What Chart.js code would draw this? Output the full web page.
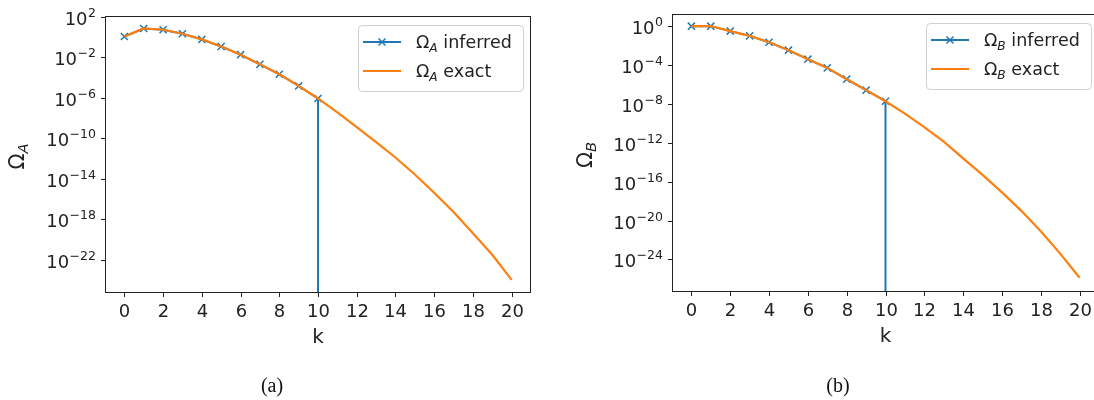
<!DOCTYPE html>
<html>
<head>
<meta charset="utf-8">
<script src="https://cdn.jsdelivr.net/npm/chart.js@4"></script>
<style>
  html, body { margin: 0; padding: 0; background: #fff; overflow: hidden; }
  #wrap { position: relative; width: 1094px; height: 400px; overflow: hidden; }
  #wrap canvas { position: absolute; top: 0; }
</style>
</head>
<body>
<div id="wrap">
  <canvas id="chartA" width="560" height="400" style="left:0px"></canvas>
  <canvas id="chartB" width="560" height="400" style="left:560px"></canvas>
</div>
<script>
// k = 0..20
const kValues = [0, 1, 2, 3, 4, 5, 6, 7, 8, 9, 10, 11, 12, 13, 14, 15, 16, 17, 18, 19, 20];

// inferred values are zero past the cut at k = 10
const inferredA = [1.07, 6.6, 4.9, 2.0, 0.55, 0.11, 0.017, 1.9e-3, 2.0e-4, 1.4e-5, 8.1e-7,
                   0, 0, 0, 0, 0, 0, 0, 0, 0, 0];
const exactA = [1.07, 6.6, 4.9, 2.0, 0.55, 0.11, 0.017, 1.9e-3, 2.0e-4, 1.4e-5, 8.1e-7,
                3.5e-8, 1.2e-9, 4.0e-11, 1.2e-12, 2.5e-14, 4.0e-16, 5.0e-18, 4.0e-20, 3.0e-22, 1.0e-24];

const inferredB = [1.0, 1.0, 0.31, 0.10, 0.022, 3.4e-3, 4.0e-4, 5.1e-5, 3.5e-6, 2.6e-7, 1.9e-8,
                   0, 0, 0, 0, 0, 0, 0, 0, 0, 0];
const exactB = [1.0, 1.0, 0.31, 0.10, 0.022, 3.4e-3, 4.0e-4, 5.1e-5, 3.5e-6, 2.6e-7, 1.9e-8,
                1.0e-9, 4.0e-11, 1.3e-12, 2.5e-14, 5.0e-16, 8.0e-18, 1.0e-19, 8.0e-22, 4.0e-24, 1.3e-26];

// tick labels: k on x, powers of ten (exponents) on y
const xTicks = [0, 2, 4, 6, 8, 10, 12, 14, 16, 18, 20];
const yExpA = [2, -2, -6, -10, -14, -18, -22];
const yExpB = [0, -4, -8, -12, -16, -20, -24];

const BLUE = '#1f77b4';
const ORANGE = '#ff7f0e';
const INK = '#222';
const SANS = '"DejaVu Sans", sans-serif';

function minus(n) {
  return n < 0 ? '\u2212' + (-n) : String(n);
}

// "10" with a raised exponent, right-aligned at x
function drawPower(ctx, exp, right, y) {
  const sup = minus(exp);
  ctx.font = '12.5px ' + SANS;
  const wSup = ctx.measureText(sup).width;
  ctx.font = '18px ' + SANS;
  const wBase = ctx.measureText('10').width;
  ctx.textAlign = 'left';
  ctx.textBaseline = 'alphabetic';
  ctx.fillText('10', right - wSup - wBase - 0.5, y + 7.5);
  ctx.font = '12.5px ' + SANS;
  ctx.fillText(sup, right - wSup, y - 1);
}

// Ω with italic subscript letter, starting at x on baseline y
function drawOmega(ctx, sub, x, y, size) {
  ctx.textAlign = 'left';
  ctx.textBaseline = 'alphabetic';
  ctx.font = size + 'px ' + SANS;
  ctx.fillText('\u03A9', x, y);
  const w = ctx.measureText('\u03A9').width;
  ctx.font = 'italic ' + (size * 0.7) + 'px ' + SANS;
  ctx.fillText(sub, x + w, y + size * 0.2);
  return w + ctx.measureText(sub).width;
}

function omegaWidth(ctx, sub, size) {
  ctx.font = size + 'px ' + SANS;
  const w = ctx.measureText('\u03A9').width;
  ctx.font = 'italic ' + (size * 0.7) + 'px ' + SANS;
  return w + ctx.measureText(sub).width;
}

const decor = {
  id: 'decor',
  afterDraw(chart, args, opts) {
    const { ctx, chartArea: a, scales: { x, y } } = chart;
    ctx.save();
    ctx.fillStyle = INK;
    ctx.strokeStyle = INK;
    ctx.lineWidth = 1;

    // frame
    ctx.strokeRect(Math.round(a.left) + 0.5, Math.round(a.top) + 0.5,
                   Math.round(a.right - a.left) - 1, Math.round(a.bottom - a.top) - 1);

    // x ticks
    xTicks.forEach(t => {
      const px = Math.round(x.getPixelForValue(t)) + 0.5;
      ctx.beginPath();
      ctx.moveTo(px, a.bottom);
      ctx.lineTo(px, a.bottom + 4);
      ctx.stroke();
      ctx.font = '18px ' + SANS;
      ctx.textAlign = 'center';
      ctx.textBaseline = 'alphabetic';
      ctx.fillText(String(t), px, a.bottom + 24);
    });

    // y ticks
    opts.yExp.forEach(e => {
      const py = Math.round(y.getPixelForValue(Math.pow(10, e))) + 0.5;
      ctx.beginPath();
      ctx.moveTo(a.left - 4, py);
      ctx.lineTo(a.left, py);
      ctx.stroke();
      drawPower(ctx, e, a.left - 9, py);
    });

    // x axis title
    ctx.font = '20px ' + SANS;
    ctx.textAlign = 'center';
    ctx.fillText('k', (a.left + a.right) / 2, a.bottom + 50);

    // y axis title, rotated
    ctx.save();
    ctx.translate(a.left - opts.yTitleGap, (a.top + a.bottom) / 2 + 2);
    ctx.rotate(-Math.PI / 2);
    const tw = omegaWidth(ctx, opts.sub, 21);
    drawOmega(ctx, opts.sub, -tw / 2, 0, 21);
    ctx.restore();

    // legend
    const lg = opts.legend;
    const bx = a.right - lg.width - lg.right;
    const by = a.top + lg.top;
    ctx.beginPath();
    ctx.roundRect(bx + 0.5, by + 0.5, lg.width, lg.height, 4);
    ctx.fillStyle = 'rgba(255,255,255,0.8)';
    ctx.fill();
    ctx.strokeStyle = '#d0d0d0';
    ctx.stroke();

    const rows = [
      { color: BLUE, marker: true, text: ' inferred' },
      { color: ORANGE, marker: false, text: ' exact' }
    ];
    rows.forEach((r, i) => {
      const cy = by + 17 + i * 29;
      const hx = bx + 5;
      ctx.strokeStyle = r.color;
      ctx.lineWidth = 2;
      ctx.beginPath();
      ctx.moveTo(hx, cy);
      ctx.lineTo(hx + 38, cy);
      ctx.stroke();
      if (r.marker) {
        const mx = hx + 19, s = 3.5;
        ctx.lineWidth = 1.5;
        ctx.beginPath();
        ctx.moveTo(mx - s, cy - s); ctx.lineTo(mx + s, cy + s);
        ctx.moveTo(mx - s, cy + s); ctx.lineTo(mx + s, cy - s);
        ctx.stroke();
      }
      ctx.fillStyle = INK;
      const tx = hx + 53;
      const w = drawOmega(ctx, opts.sub, tx, cy + 6, 17.5);
      ctx.font = '17.5px ' + SANS;
      ctx.fillText(r.text, tx + w, cy + 6);
    });

    // panel caption
    ctx.fillStyle = '#111';
    ctx.font = '20px "Liberation Serif", serif';
    ctx.textAlign = 'center';
    ctx.fillText(opts.caption, opts.captionX, 392);
    ctx.restore();
  }
};

// a zero inferred value falls off the log axis: the line drops straight
// down from the last positive point
function inferredPoints(inferred) {
  const pts = [];
  for (let i = 0; i < kValues.length; i++) {
    if (inferred[i] > 0) {
      pts.push({ x: kValues[i], y: inferred[i], mark: true });
    } else {
      pts.push({ x: kValues[i - 1], y: Number.MIN_VALUE, mark: false });
      break;
    }
  }
  return pts;
}

function makeChart(id, inferred, exact, yMinExp, yMaxExp, pad, plug) {
  const inferredPts = inferredPoints(inferred);
  const exactPts = kValues.map((k, i) => ({ x: k, y: exact[i] }));
  return new Chart(document.getElementById(id).getContext('2d'), {
    type: 'line',
    data: {
      datasets: [
        {
          label: 'exact',
          data: exactPts,
          borderColor: ORANGE,
          borderWidth: 2.2,
          pointRadius: 0,
          tension: 0,
          order: 0
        },
        {
          label: 'inferred',
          data: inferredPts,
          borderColor: BLUE,
          borderWidth: 2,
          pointStyle: 'crossRot',
          pointRadius: c => (inferredPts[c.dataIndex].mark ? 5 : 0),
          pointBorderWidth: 1.5,
          pointBorderColor: BLUE,
          tension: 0,
          order: 1
        }
      ]
    },
    options: {
      responsive: false,
      animation: false,
      devicePixelRatio: 1,
      events: [],
      layout: { padding: pad },
      scales: {
        x: { type: 'linear', min: -1, max: 21, display: false },
        y: { type: 'logarithmic', min: Math.pow(10, yMinExp), max: Math.pow(10, yMaxExp), display: false }
      },
      plugins: {
        legend: { display: false },
        tooltip: { enabled: false },
        decor: plug
      }
    },
    plugins: [decor]
  });
}

makeChart('chartA', inferredA, exactA, -25.3, 2.05,
  { left: 105, right: 29, top: 16, bottom: 107 },
  { yExp: yExpA, sub: 'A', yTitleGap: 81, caption: '(a)', captionX: 272,
    legend: { width: 165, height: 66, right: 8, top: 9 } });

makeChart('chartB', inferredB, exactB, -27.35, 1.25,
  { left: 112, right: 21, top: 14, bottom: 108 },
  { yExp: yExpB, sub: 'B', yTitleGap: 80, caption: '(b)', captionX: 278,
    legend: { width: 165, height: 66, right: 8, top: 9 } });
</script>
</body>
</html>
